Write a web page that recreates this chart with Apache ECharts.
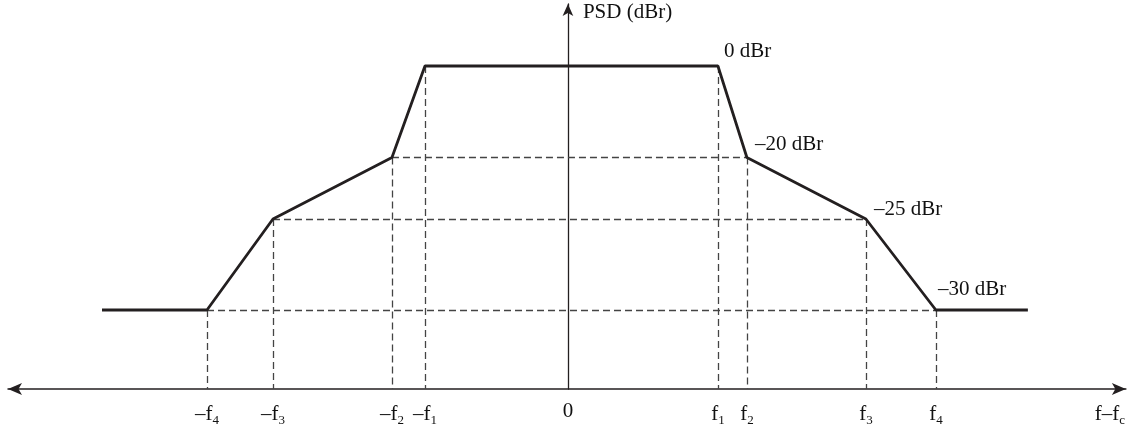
<!DOCTYPE html>
<html>
<head>
<meta charset="utf-8">
<script src="https://cdn.jsdelivr.net/npm/echarts@6/dist/echarts.min.js"></script>
<style>
html,body{margin:0;padding:0;background:#fff;}
#chart{width:1128px;height:432px;}
</style>
</head>
<body>
<div id="chart"></div>
<script>
// Schematic spectral mask (frequency offset units, relative level units)
const negFreqNames = ['–f4', '–f3', '–f2', '–f1'];
const negFreqs = [-36.1, -29.5, -17.6, -14.3];
const posFreqNames = ['f1', 'f2', 'f3', 'f4'];
const posFreqs = [15.0, 17.9, 29.8, 36.8];
const edgeFreqs = [-46.6, 46.0];
// schematic heights of the mask levels: 0, -20, -25, -30 dBr
const levelNames = ['0 dBr', '–20 dBr', '–25 dBr', '–30 dBr'];
const levelHeights = [32.3, 23.15, 17.0, 7.9];
const axisEndLabelPos = 54.2;
const axisEndLabel = 'f–fc';
const yAxisName = 'PSD (dBr)';

// levels at -f4..-f1 and f1..f4 (indexes into levelHeights)
const negLevelIdx = [3, 2, 1, 0];
const posLevelIdx = [0, 1, 2, 3];

const maskPts = [[edgeFreqs[0], levelHeights[3]]];
negFreqs.forEach((f, i) => maskPts.push([f, levelHeights[negLevelIdx[i]]]));
posFreqs.forEach((f, i) => maskPts.push([f, levelHeights[posLevelIdx[i]]]));
maskPts.push([edgeFreqs[1], levelHeights[3]]);

// dashed guide lines
const guides = [];
negFreqs.forEach((f, i) => guides.push({coords: [[f, levelHeights[negLevelIdx[i]]], [f, 0]]}));
posFreqs.forEach((f, i) => guides.push({coords: [[f, levelHeights[posLevelIdx[i]]], [f, 0]]}));
// horizontal: -f2..f2 (-20), -f3..f3 (-25), -f4..f4 (-30)
[[2, 1], [1, 2], [0, 3]].forEach(([ni, lvl]) => {
  const pi = 3 - ni;
  guides.push({coords: [[negFreqs[ni], levelHeights[lvl]], [posFreqs[pi], levelHeights[lvl]]]});
});

// x tick labels
const tickVals = negFreqs.concat([0], posFreqs, [axisEndLabelPos]);
const tickNames = negFreqNames.concat(['0'], posFreqNames, [axisEndLabel]);
function fmtTick(v) {
  let idx = -1, best = 1e9;
  tickVals.forEach((t, i) => { const d = Math.abs(t - v); if (d < best) { best = d; idx = i; } });
  const name = tickNames[idx];
  if (name === '0') return '{m|0}';
  if (name === axisEndLabel) return '{m|f–f}{s|c}';
  const base = name.slice(0, -1), sub = name.slice(-1);
  return '{m|' + base + '}{s|' + sub + '}';
}

const labelOffsets = [[0, -15], [2, -13], [2, -10], [-4, -21]];
const levelLabelData = posFreqs.map((f, i) => ({
  value: [f, levelHeights[posLevelIdx[i]]],
  label: {offset: labelOffsets[i]},
  name: levelNames[posLevelIdx[i]]
}));

const FONT = '"Liberation Serif", "Times New Roman", serif';
const TXT = '#111111';
const chart = echarts.init(document.getElementById('chart'));
chart.setOption({
  animation: false,
  backgroundColor: '#ffffff',
  grid: {left: 8, right: 2, top: 4, bottom: 43, containLabel: false},
  xAxis: {
    type: 'value', min: -56, max: 55.8,
    axisLine: {onZero: true, symbol: ['arrow', 'arrow'], symbolSize: [9, 14], lineStyle: {color: '#231f20', width: 1.5}},
    axisTick: {show: false},
    splitLine: {show: false},
    axisLabel: {
      customValues: tickVals,
      margin: 12,
      showMinLabel: true, showMaxLabel: true,
      formatter: fmtTick,
      rich: {
        m: {fontFamily: FONT, fontSize: 21, color: TXT},
        s: {fontFamily: FONT, fontSize: 13, color: TXT, padding: [13, 0, 0, 0]}
      }
    }
  },
  yAxis: {
    type: 'value', min: 0, max: 38.5,
    name: yAxisName, nameLocation: 'end', nameGap: -8,
    nameTextStyle: {fontFamily: FONT, fontSize: 21, color: TXT, align: 'left', verticalAlign: 'middle', padding: [0, 0, 0, 15]},
    axisLine: {onZero: true, symbol: ['none', 'arrow'], symbolSize: [8, 12], lineStyle: {color: '#231f20', width: 1.3}},
    axisTick: {show: false},
    axisLabel: {show: false},
    splitLine: {show: false}
  },
  series: [
    {
      type: 'lines', coordinateSystem: 'cartesian2d', silent: true,
      polyline: false,
      lineStyle: {color: '#444', width: 1.3, type: [7, 4], opacity: 1},
      data: guides, z: 1
    },
    {
      type: 'line', data: maskPts, symbol: 'none', silent: true,
      lineStyle: {color: '#231f20', width: 2.8}, z: 3
    },
    {
      type: 'scatter', data: levelLabelData, symbolSize: 0, silent: true,
      itemStyle: {opacity: 1},
      label: {
        show: true, position: 'right', distance: 6,
        formatter: p => p.name,
        fontFamily: FONT, fontSize: 21, color: TXT
      },
      z: 4
    }
  ]
});
</script>
</body>
</html>
